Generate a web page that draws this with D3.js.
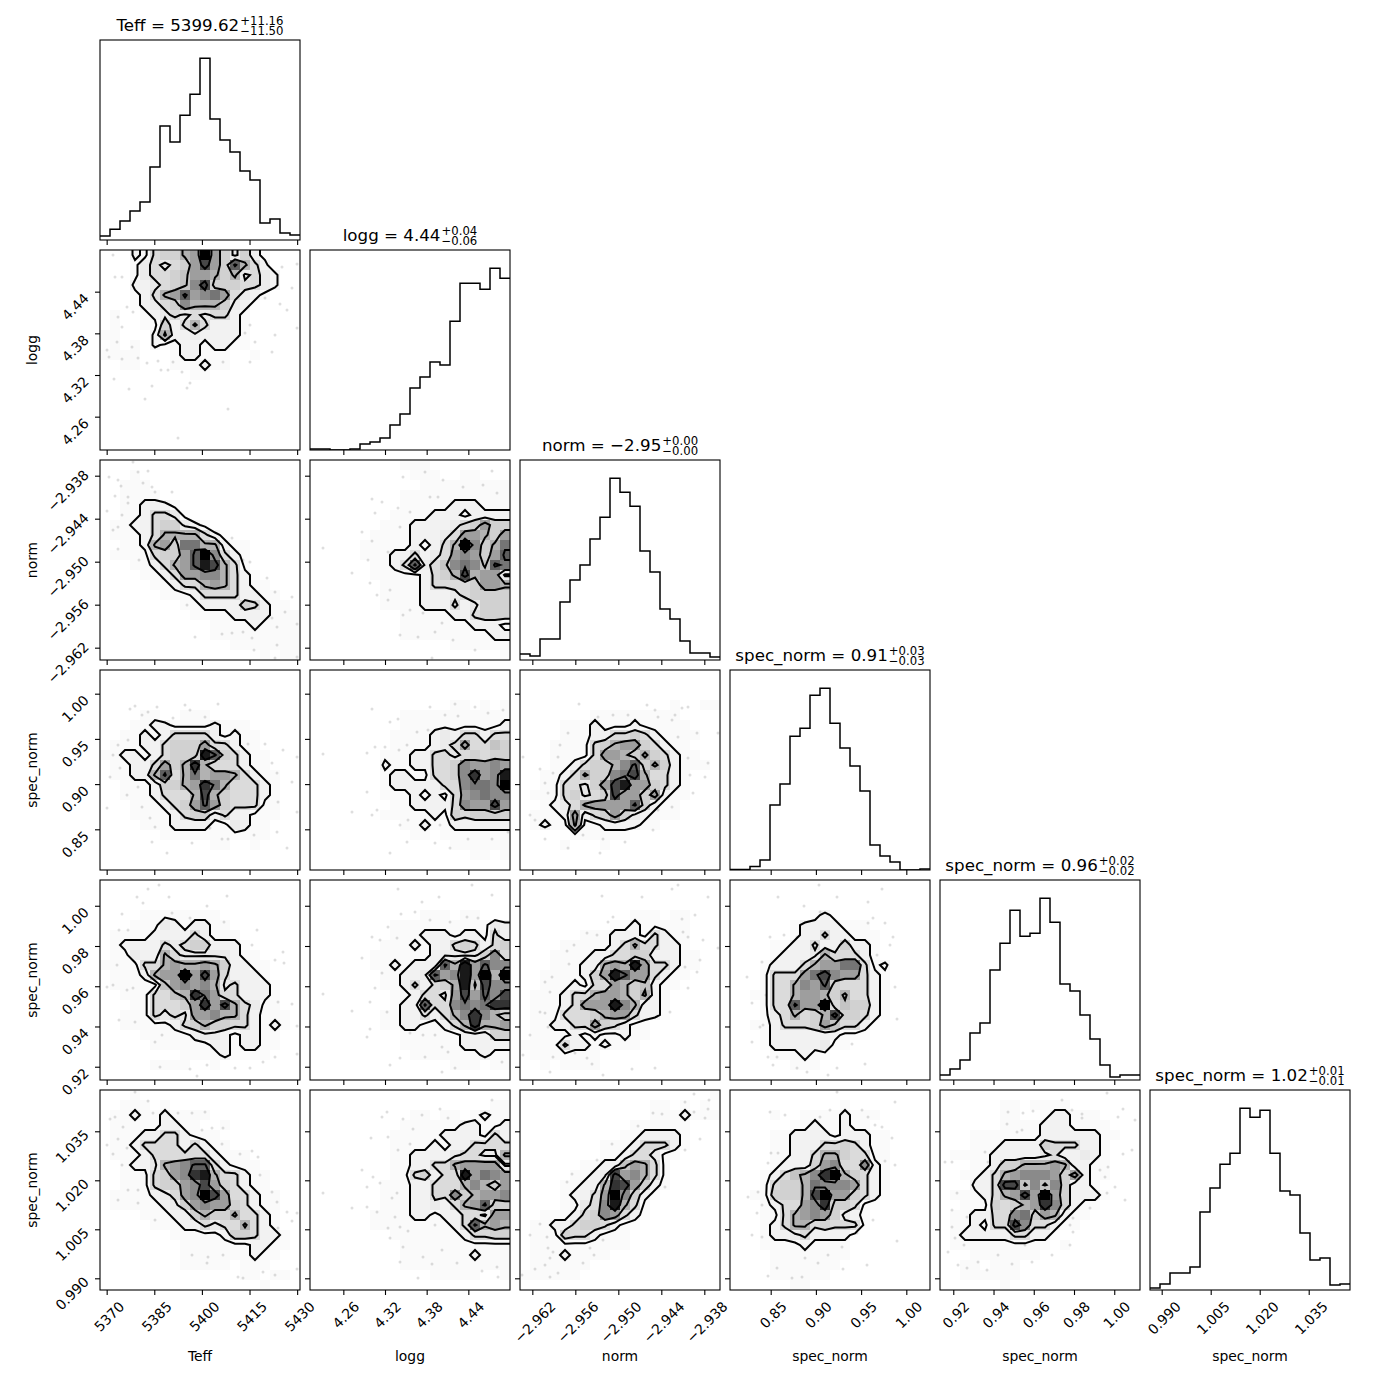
<!DOCTYPE html>
<html><head><meta charset="utf-8">
<script src="https://cdn.jsdelivr.net/npm/d3@7"></script>
<style>html,body{margin:0;background:#fff}svg{display:block}text{font-family:"DejaVu Sans",sans-serif;fill:#000}</style>
</head><body><svg id="c" width="1390" height="1390"></svg>
<script>
// ---- parameters
const paramLabels = ["Teff","logg","norm","spec_norm","spec_norm","spec_norm"];
const titleMain = ["Teff = 5399.62","logg = 4.44","norm = \u22122.95","spec_norm = 0.91","spec_norm = 0.96","spec_norm = 1.02"];
const titleUp = ["+11.16","+0.04","+0.00","+0.03","+0.02","+0.01"];
const titleDown = ["\u221211.50","\u22120.06","\u22120.00","\u22120.03","\u22120.02","\u22120.01"];
const domainsLow = [5367.9,4.212,-2.96372,0.805,0.9134,0.98642];
const domainsHigh = [5430.9,4.500,-2.93581,1.0262,1.0128,1.04764];
const tickValues = [[5370,5385,5400,5415,5430],[4.26,4.32,4.38,4.44],[-2.962,-2.956,-2.950,-2.944,-2.938],[0.85,0.90,0.95,1.00],[0.92,0.94,0.96,0.98,1.00],[0.990,1.005,1.020,1.035]];
const tickDecimals = [0,2,3,2,2,3];
// ---- 1-D histograms
const histTeff = [4,10.7,19,29,38,73,114,98,125,146,182,121,100,88,69,60,17,21,7,5];
const histLogg = [1,1,0,0,1,6,8,12,25,36,62,73,88,85,129,167,167,161,182,172];
const histNorm = [6,4,21,21,58,80,95,121,143,182,168,154,109,88,51,41,19,7,7,3];
const histS1 = [.4,.4,3.6,10,65,86,134,142,175,182,147,122,104,79,25,14,8,0,0,1];
const histS2 = [5,11,20,47,57,110,137,170,144,147,182,158,96,89,65,41,15,3,5,5];
const histS3 = [2,6,17,17,23,78,102,126,137,182,173,180,137,99,95,57,30,32,5,6];
// ---- density levels (0..f) per 20x20 bin, rows listed top to bottom
const gridA = ["00021 45578 f8535 21000","00013 43458 c85b7 42000","00013 44568 87573 43200","00022 34569 c5554 43200","00012 478b8 9a843 21000","00012 34597 77532 10000","01001 23434 34421 00000","01001 15247 42221 00000","11000 27223 22221 00000","01010 21122 12211 00000","11110 00122 11100 10000","00110 00111 21100 00000","00000 00001 10000 00000","00000 00000 00000 00000","00000 00000 00000 00000","00000 00000 00000 00000","00000 00000 00000 00000","00000 00000 00000 00000","00000 00000 00000 00000","00000 00000 00000 00000"];
const gridB = ["00000 00000 00000 00000","00010 00000 00000 00000","00111 00000 00000 00000","00111 10000 00000 00000","00112 22100 00000 00000","00112 44310 00000 00000","01122 45532 10000 00000","01112 47777 42100 00000","00112 785aa 77211 00000","01111 4558b f9421 00000","00011 2478b ec741 00000","00001 12488 99742 10000","00000 11244 78742 11000","00000 01112 44442 21100","00000 00011 22225 42110","00000 00001 11122 22111","00000 00000 01111 21111","00000 00000 01111 11111","00000 00000 00011 11111","00000 00000 00000 01011"];
const gridC = ["00000 00001 11000 00000","00000 00000 11100 11000","00000 00000 01111 11111","00000 00001 11111 11111","00000 00001 11112 22111","00000 00011 11222 12222","00000 00111 22223 45855","00000 01111 22234 88758","00000 11111 21247 f957a","00000 11122 42348 9858b","00000 01124 b3469 a96ba","00000 01111 12457 c7883","00000 00111 12444 45887","00000 00111 12223 45555","00000 00111 12224 23555","00000 00001 11112 24555","00000 00001 11111 12221","00000 00001 11111 11122","00000 00000 00001 11111","00000 00000 00000 00001"];
const gridD = ["00000 00000 00000 00000","00000 00000 00000 00000","00000 00000 00000 00000","00000 00000 00000 00000","00001 10011 10000 00000","00011 22111 12111 00000","00112 12444 42121 10000","01112 24555 84421 10000","11221 24555 eb542 11000","01122 4857d 74442 11000","01122 7b47a 78874 21100","00111 25578 da744 42100","00111 24447 c7544 42100","00011 12458 b8544 41100","00011 11245 52422 11100","00001 11222 21132 11000","00000 01111 11111 11000","00000 00000 01100 10000","00000 00000 00000 00000","00000 00000 00000 00000"];
const gridE = ["00000 00000 00000 00000","00000 00000 00000 00000","00000 00000 00000 00000","00000 00000 00001 10101","00000 00001 11111 11111","00000 00001 11111 11112","00000 00011 11232 44244","00000 00011 11234 84465","00000 00111 22443 45455","00000 00211 22445 98898","00000 00122 11445 9d89e","00000 00122 22244 9aa9f","00000 00111 21214 89a99","00000 00011 22224 988c8","00000 00111 11215 45555","00000 00001 12112 22222","00000 00000 11011 11111","00000 00000 00001 11111","00000 00000 00000 01101","00000 00000 00000 00000"];
const gridF = ["00000 00000 00000 00000","00000 00000 00000 00000","00000 00000 00000 00000","00000 00000 00000 10011","00000 00111 11111 10000","00001 11211 12111 11000","00001 11224 45421 11100","00011 11457 88542 11000","00011 11488 75754 21100","00011 24557 9b575 21110","00112 47559 ac744 21000","00114 4358c e8854 21000","01114 5345c 88582 11000","00123 47888 8b521 10000","01112 82458 53211 10000","01211 71122 22110 00000","00000 11111 10000 00000","00001 00010 00000 00000","00000 00000 00000 00000","00000 00000 00000 00000"];
const gridG = ["00000 00000 00000 00000","00000 00000 00000 00000","00000 00000 00000 00000","00001 11111 11000 00000","00011 13212 21100 00000","01111 22224 21110 00000","01222 24345 52221 00000","01132 27433 33321 10000","11114 47877 87522 11000","01112 788f8 c8422 21000","01111 16898 97342 22100","00111 4467d a8442 22100","00011 44458 d8c74 31100","00111 43438 89774 21110","00111 11245 75544 21210","00001 11112 33212 21100","00000 11111 12212 21100","00000 00011 11211 11000","00000 11110 01000 00000","00000 00000 00000 00000"];
const gridH = ["00000 00000 00000 00000","00000 00000 00000 00000","00000 00000 00000 00000","00000 00000 01110 11000","00000 00011 11111 11132","00000 00011 12221 22142","00000 00111 21224 54245","00000 01111 11233 33594","00000 01121 222b7 e8b99","00000 00112 23b89 e8f7f","00000 00112 42457 e6c99","00000 00011 24438 c8b9c","00000 00012 2b449 a9add","00000 00112 24247 9d975","00000 00112 21124 7d778","00000 00001 11111 22255","00000 00001 11111 22222","00000 00000 11111 11211","00000 00000 00001 11011","00000 00000 00000 00000"];
const gridI = ["00000 00000 00000 00000","00000 00000 00000 00000","00000 00000 00000 00000","00000 00000 01110 11000","00000 00001 12111 11000","00000 01112 22142 11000","00001 11112 47442 21000","00011 11224 45522 21100","00011 12278 7e844 21100","00111 1258e b8842 11000","00111 21448 75621 10000","01112 44788 75721 00000","01112 4888e 97221 00000","01114 44578 84221 00000","01122 44854 21100 00000","01111 21211 21100 00000","11114 22121 11000 00000","01111 11100 00000 00000","00101 11100 00000 00000","00000 00000 00000 00000"];
const gridJ = ["00000 00000 00000 00000","00000 00000 00000 00000","00000 00000 00000 00000","00000 00012 10000 00000","00000 01222 21110 00000","00000 01224 22111 00000","00001 12242 25221 00000","00001 22237 44421 00000","00012 22478 8aa41 20000","00014 448ac 98842 10000","00014 4798b 54442 10000","00114 47887 57442 10000","00014 4b88f 46552 10000","00013 47457 c5542 10000","00112 44458 64421 00000","00012 22222 21110 00000","00012 22223 11000 00000","00001 11211 00000 00000","00000 01110 00000 00000","00000 00000 00000 00000"];
const gridK = ["00010 00000 00000 00000","00111 01000 00000 00000","01121 12111 10000 00000","01111 12211 00100 00000","01112 24421 11000 00000","01124 44424 21100 00000","01112 44444 42111 00000","00122 3789b b4211 10000","00111 4589d e7442 11000","00111 45589 c8542 11000","01111 23489 fc844 21100","01111 12358 98854 21100","00001 11225 75574 42100","00000 11122 43447 42100","00000 00111 11255 42210","00000 00011 11111 22110","00000 00011 11111 21100","00000 00011 11101 11000","00000 00000 00001 10110","00000 00000 00000 01000"];
const gridL = ["00000 00000 00000 00000","00000 00000 00000 00011","00000 00000 11011 01211","00000 00001 11111 22112","00000 00011 11122 22142","00000 00011 11212 24444","00000 00011 22223 44337","00000 00011 22447 88883","00000 00011 45244 e8a98","00000 00111 22444 79758","00000 00111 22449 57889","00000 00111 22324 78b55","00000 01111 22122 44388","00000 01111 11112 4b787","00000 00011 11111 24455","00000 00001 11111 11111","00000 00001 11111 12111","00000 00001 11111 11111","00000 00000 00111 11001","00000 00000 00000 00000"];
const gridM = ["00000 00000 00000 00001","00000 00000 00011 01010","00000 00000 00011 12111","00000 00000 01111 11000","00000 00000 11222 21000","00000 00011 12444 21000","00000 00011 24431 10000","00000 01122 68741 00000","00000 1123c 89741 00000","00001 1227d c8521 00000","00001 2248f 95210 00000","00001 1349e 74100 00000","00111 24598 42100 00000","01122 45542 11000 00000","01115 44211 10000 00000","01111 11111 10000 00000","01112 11110 00000 00000","01111 11000 00000 00000","11111 10000 00000 00000","00000 00000 00000 00000"];
const gridN = ["00000 00000 00000 00000","00000 00000 01000 00000","00001 00111 12111 00000","00000 01121 12110 00000","00001 12222 12221 10000","00001 12224 45421 10000","00001 12247 75441 10000","00001 22258 94492 10000","00012 4679d f7542 10000","00014 557a9 99842 10000","00115 557cf 88542 10000","00012 4489d 55411 00000","00011 47898 53210 00000","00012 47745 44410 00000","00012 23422 22100 00000","00011 11211 11000 00000","00001 11111 11000 00000","00001 11111 10000 00000","00001 11111 00000 00000","00000 01100 00000 00000"];
const gridO = ["00000 00000 00000 00000","00000 01101 11100 00000","00000 01100 12211 10000","00000 01111 22211 11000","00011 11111 22222 21100","00011 12222 54442 21000","01111 22222 34223 21000","00011 25577 78722 11000","00112 47899 98582 11000","00022 4cc69 69522 10000","01112 478c8 f8522 21000","00111 54578 d9521 10000","01122 449a5 87211 00000","01121 44c94 42110 00000","01222 22442 21000 00000","01111 11111 10100 00000","00011 11111 00000 00000","00110 11100 00000 00000","00111 11100 00000 00000","00000 01000 00000 00000"];
// ---- scattered samples outside the contours, [bin along x, bin down y]
const ptsA=[[1.3,.5],[1.5,2.7],[2.2,2.7],[2.7,5.7],[3.3,6.2],[1.8,6.7],[2.2,7.7],[.7,10],[1.7,9.2],[.9,10.7],[2.2,10.9],[3.2,9.7],[3.8,10.8],[4.7,11.3],[5.8,11.1],[6.1,12],[6.8,12],[7.3,11.2],[8.2,12.2],[9,13.3],[8.7,13.8],[5.2,13.6],[2.9,13.9],[1.4,12.9],[4.5,14.9],[7.8,18.8],[12.8,15.9],[12.3,11.2],[15,11.2],[17.2,10.2],[17.5,8.5],[19.7,7.8],[18.7,6],[18,5.4],[19.2,3.8],[18.2,1.7],[19.7,1.4],[16.5,4.8],[15,7.5],[14.5,8.3],[15.5,9.2]];
const ptsB=[[3.3,.2],[3.8,1.2],[4.8,1.1],[.9,1.7],[1.8,2],[2.1,2.6],[4.3,2.3],[5.2,2.7],[5.5,3.2],[7.2,3.2],[2.8,3.7],[2.8,4.3],[1.5,3.6],[.7,5.1],[2.2,5.5],[1.8,6.7],[1.3,7],[1.8,8.9],[3.9,10],[6.3,11.8],[7,12.2],[8.7,14.5],[9.5,17.7],[12.2,17.4],[13.2,17.3],[14.3,17.2],[15.2,17.8],[15.7,16.2],[17.2,15.8],[17.7,16.7],[18.5,15.2],[19.2,13.7],[17.5,13.2],[16.7,11.8],[15,10.2],[14.3,10],[13.2,7.8],[11.8,7.4],[19.7,16.4],[17.7,18.5],[15.4,19],[19.7,19.7],[17.5,19.8]];
const ptsC=[[9.3,1.7],[11.5,1.2],[13.3,2],[15.3,2.7],[18.2,1.1],[17.3,2.5],[18.7,3.3],[12.8,3.7],[12,3.7],[6.2,3.9],[7.2,4.2],[6.5,5.3],[8.8,4.8],[9,6.7],[10,5.2],[5.2,7.2],[6.2,8.1],[7.8,9.2],[1.3,8.8],[5.8,10],[4.2,11.3],[6,12.3],[8,13],[6.7,13.5],[7.8,14],[10,15],[11.3,15.3],[9.3,15.5],[9,17.5],[10.8,17.7],[13.2,16.3],[14.3,18],[16.5,19],[18.2,16.8],[12.5,17.2],[12.2,19.8]];
const ptsD=[[4.8,4.2],[4.2,4.5],[3.5,3.6],[3,3.9],[5.7,3.7],[8.5,3.5],[9,4],[11.8,3.4],[7.3,4.8],[10.5,4.7],[1.8,7.5],[1.3,8.5],[2.8,7],[1,10.7],[2,9.8],[3.8,11.7],[2.7,12.5],[.7,13.8],[4.2,13.7],[5,14.8],[5.5,15.7],[5.2,17.2],[6.7,18.3],[9.2,17.3],[11,15.8],[12.2,16.9],[12.8,16.9],[15.4,16.5],[17.7,16.2],[18.7,17.8],[19.7,14.2],[17.8,13.2],[19.2,11.2],[17.7,10.3],[17.2,9.3],[19.7,8.7],[18.3,8],[16.5,7.4],[14.8,7.4],[13.8,6.2]];
const ptsE=[[1.3,8.4],[6.2,3.9],[8.8,4.9],[8,5.2],[5.7,8.3],[6.5,7.7],[7.5,7.7],[8.9,8],[9.7,7.5],[10.7,6.2],[11.8,6],[12,3.7],[14.5,3.4],[16.5,3.7],[17.8,4.3],[19.3,4],[13.5,4.5],[14.8,4.6],[5.7,12.2],[4.2,14.2],[6.7,14],[6.2,14.5],[8,18.3],[9.8,15],[9,15.5],[13,15.5],[9.7,17.2],[12.5,17.3],[14,17.8],[15.8,16.9],[18.2,16.9],[19.8,16.2]];
const ptsF=[[5.9,3.4],[7.8,4.7],[9.3,4.5],[10.8,4.5],[12.7,3.5],[13.5,4],[13.8,4.7],[16.2,3.8],[16.8,3.7],[15.5,4.5],[15.2,5],[15.8,6.7],[17.7,6.3],[19.8,6.3],[16.8,8.8],[18.8,9.3],[17,10.5],[18.5,10.7],[17.3,12.3],[15.2,13.7],[13.8,14],[13.3,16],[4.8,6.3],[4,7.5],[3.8,8.7],[.3,8.7],[2,9.9],[3.3,10.3],[2.5,11.3],[2.8,12.3],[1,14.5],[1.5,15],[6.3,16.5],[4.8,17.8],[8.3,16.9],[8,18.3],[10.5,17.2],[2.5,16.9]];
const ptsG=[[4.8,.9],[5.9,.5],[3.7,1.7],[4.3,2.3],[2.2,3.4],[1.9,5],[2.8,5],[6.9,1.7],[7.2,3.3],[9,3.8],[10.7,2.6],[12.7,1.6],[12.4,4.2],[15.7,5],[15.2,6.5],[18.3,7.2],[17.5,8],[18.4,8.3],[1.7,8.5],[.7,10.7],[1.3,10.5],[2.7,11],[3.3,10.8],[1.9,14],[3.5,14.2],[6.2,15.5],[5.5,16.2],[6,18.7],[9,18.9],[9.7,19.6],[10.7,18.5],[13.5,18.8],[15,18.8],[16.3,18.2],[17.5,17.7],[19.7,17.4],[19.7,14.6],[19.2,12.4],[17.8,12.2],[16.7,10.4]];
const ptsH=[[8.8,.9],[16.2,.5],[18.2,1.5],[11.2,2.2],[12.9,1.7],[9.1,3.4],[10.5,3.2],[15.7,3.7],[16.8,3.8],[12,4],[14,4.2],[7.8,4.7],[6.2,5.7],[7,6],[8.7,5.8],[5.2,7.8],[7.2,9.3],[1.3,11.4],[6.5,10.8],[6,12.2],[4.2,13.1],[7.7,13.2],[6,14.9],[5.7,15.7],[11.3,15.5],[12.5,15.5],[10,15.3],[11.5,17.7],[9,17.8],[8,18.5],[13.2,16.7],[14.5,18.8],[13.2,19.2],[19.2,18.2],[13.8,17.2]];
const ptsI=[[8.2,1.6],[12.2,1.7],[15.2,.9],[15.8,.5],[18.8,1.7],[17.5,3.5],[16.2,3.9],[9.3,3.7],[8.8,4.2],[6.7,5.3],[7.7,5.5],[5.4,6.5],[4.7,7.1],[16.3,5.2],[16.8,5.7],[18.3,6],[19.8,6.8],[18,8],[16.5,8.7],[17.7,9.2],[16.8,10.8],[15,13.2],[4.9,8.4],[3.2,9.7],[2.5,10.2],[3,11.2],[2,13.2],[2.5,13.3],[2.8,14.7],[1,15.5],[.3,17.5],[3.3,17.7],[5.5,17.3],[6.7,17.8],[7.2,18.4],[8.3,19.5],[11.2,18.9],[13.5,18.8],[3,19.2]];
const ptsJ=[[8.9,.5],[4.8,1.7],[10.7,1.7],[15.2,.9],[13.8,2.2],[7.4,2.6],[9,3.2],[14.3,3.8],[13.8,4.3],[15.5,4.3],[4,5.7],[5.4,5.5],[6.7,5.7],[16.3,5.7],[16,6.5],[14.7,7.5],[3.2,8.2],[1.7,9.7],[3.6,11.5],[2.2,12.3],[16.5,10.7],[14.9,12.1],[16.7,13.9],[3.3,14.5],[3,14.7],[2.2,16.2],[4.7,17.7],[3.8,17.7],[4.3,18.5],[6.7,18.8],[9.8,19.5],[10.7,18.8],[12.2,16.4],[13.5,18.4],[7.7,19.2]];
const ptsK=[[3.5,.2],[4.8,1.1],[1.5,2.7],[1,2.9],[2.3,3.7],[5.3,2.3],[7.8,2.3],[9.2,2.3],[10.5,2.2],[10.2,4],[11.2,3.8],[12.3,3.8],[12.2,5.4],[.7,5.5],[1.8,4.9],[2.7,5.8],[1.3,6.4],[14,6.4],[15.2,6.1],[15.8,6.7],[16,8.5],[17.2,10.2],[17.7,11.2],[18.7,12.2],[19.7,12.3],[19.2,13.1],[17.8,13.8],[2.2,7.5],[2.8,10],[1.8,11],[3.8,10],[3.8,11.3],[5.5,13],[9.2,16.5],[10.8,16.7],[12.3,16.5],[10.7,17.3],[13.8,18.7],[14.3,18.8],[16.3,18.2],[19.7,17.9],[17.5,18.5]];
const ptsL=[[9.3,2.9],[11.2,2.5],[13,1.9],[13.8,2.8],[18.2,1],[7.2,2.7],[7.7,2.2],[10.3,3.9],[10,5.4],[8.8,6],[7.8,4.7],[6.1,4.8],[5.2,8],[6.3,8.7],[7,9.3],[1.3,10.3],[5.7,9.7],[4.2,11.8],[5.7,11.7],[6.7,12.2],[8.2,10.8],[8.7,10.3],[8.5,12.7],[7.8,13.8],[9.8,14.1],[9,13.7],[8,14.8],[12.5,13.5],[9.3,15.7],[11.3,16.7],[13.2,16],[14.7,17.3],[12.2,17.4],[10.8,18.8],[17.2,18.1],[18.7,17.7],[18.8,18.7],[9,17.2]];
const ptsM=[[17.4,.4],[16.5,1.2],[18.9,1],[18.8,1.9],[13.3,2.3],[14.2,2.4],[17.4,2.2],[18.5,2.8],[11.8,3.6],[18,4.9],[16.5,6],[7.7,7],[9.2,5.4],[5.2,8.4],[4.7,9.2],[14.5,9.7],[13.2,10.3],[10.5,13.2],[9.5,13.7],[2,13.4],[2.7,14.7],[1,14.5],[8.3,15],[7,15.8],[7.4,16.5],[2.8,15.8],[3.3,16.2],[2.5,17.5],[1.5,17.9],[3,16.8],[3.8,18.3],[6.3,17.3],[3,18.7],[.2,18.5]];
const ptsN=[[10.7,.2],[5.5,2.5],[4,2.2],[9,2.7],[10,2],[13.2,2],[13.8,2.7],[16.5,1.2],[14.5,3.5],[15.2,3.7],[16.2,4.8],[14,5.7],[15.5,7.1],[16.5,7.5],[4.8,6.3],[4.1,6.3],[3.8,7.3],[1.8,10.7],[2.8,10.2],[3.2,11.5],[2.7,12.3],[14.3,13],[2.2,14.5],[3.2,14.7],[12.7,14.3],[16.7,15.1],[13.7,17.5],[11.2,15.7],[9.8,16.5],[8.8,17.3],[7.5,16.8],[4.7,17.8],[3.8,18.6],[6.2,18.8],[11.3,17.9],[7.2,18.7]];
const ptsO=[[.5,7.2],[1.2,7.2],[4.5,6.2],[4.8,7.2],[6.7,3.4],[6.8,2.2],[8.3,2.3],[9.3,2.1],[8.2,4],[7.7,4.2],[5.8,5.7],[12.2,1],[13.2,2],[14.2,2.4],[14.2,2.8],[16.7,.3],[17.8,2.7],[18.3,1.9],[19.5,3],[18.3,6.4],[19.2,6],[16,8],[16.8,7.7],[16.5,8.7],[17.5,9.7],[18.5,11],[16.7,10.3],[15,11.8],[13.3,12.8],[13,13.5],[13.3,14.2],[13,15.5],[1.7,10.3],[1.2,12],[2.7,12.7],[1.2,13.7],[1.5,14.8],[2.4,15.5],[.8,16.2],[1.8,17.5],[2.7,17.8],[3.8,17.2],[4.7,18],[5.8,16.5],[7.2,17.4],[9.2,17.2],[11.2,16.5],[8.5,15.5]];
// ---- which pair each grid belongs to: [x param, y param, grid, points]
const pairs=[[0,1,gridA,ptsA],[0,2,gridB,ptsB],[1,2,gridC,ptsC],[0,3,gridD,ptsD],[1,3,gridE,ptsE],[2,3,gridF,ptsF],[0,4,gridG,ptsG],[1,4,gridH,ptsH],[2,4,gridI,ptsI],[3,4,gridJ,ptsJ],[0,5,gridK,ptsK],[1,5,gridL,ptsL],[2,5,gridM,ptsM],[3,5,gridN,ptsN],[4,5,gridO,ptsO]];
const hists=[histTeff,histLogg,histNorm,histS1,histS2,histS3];
const contourLevels=[1.5,3.5,6.5,10.5];
const levelOpacity=[0,.02,.05,.08,.14,.18,.23,.3,.38,.46,.54,.63,.72,.8,.9,1];

const BINS=20, SIZE=200, STEP=210, LEFT=100, TOP=40;
const svg=d3.select("#c");
const defs=svg.append("defs");
const xS=i=>d3.scaleLinear().domain([domainsLow[i],domainsHigh[i]]).range([LEFT+i*STEP,LEFT+i*STEP+SIZE]);
const yS=i=>d3.scaleLinear().domain([domainsLow[i],domainsHigh[i]]).range([TOP+i*STEP+SIZE,TOP+i*STEP]);
const binX=(i,g)=>domainsLow[i]+(domainsHigh[i]-domainsLow[i])*g/BINS;
const binY=(i,g)=>domainsHigh[i]-(domainsHigh[i]-domainsLow[i])*g/BINS;
const fmt=i=>v=>v.toFixed(tickDecimals[i]).replace("-","\u2212");

function clip(id,x,y){defs.append("clipPath").attr("id",id).append("rect").attr("x",x).attr("y",y).attr("width",SIZE).attr("height",SIZE);}

function bottomAxis(g,i,row,labels){
  const ax=d3.axisBottom(xS(i)).tickValues(tickValues[i]).tickSize(5).tickFormat(labels?fmt(i):"");
  const a=g.append("g").attr("transform",`translate(0,${TOP+row*STEP+SIZE})`).call(ax);
  a.select(".domain").remove();
  a.selectAll(".tick line").attr("stroke","#000").attr("stroke-width",1.1);
  a.selectAll(".tick text").attr("y",null).attr("dy",null).attr("font-size",13.9).style("font-family",'"DejaVu Sans"').attr("fill","#000").attr("text-anchor","middle").attr("dominant-baseline","central")
   .each(function(){const w=this.getComputedTextLength();const b=(w+11)*Math.SQRT1_2;d3.select(this).attr("transform",`translate(2,${10+b/2}) rotate(-45)`);});
}
function leftAxis(g,i,col,labels){
  const ax=d3.axisLeft(yS(i)).tickValues(tickValues[i]).tickSize(5).tickFormat(labels?fmt(i):"");
  const a=g.append("g").attr("transform",`translate(${LEFT+col*STEP},0)`).call(ax);
  a.select(".domain").remove();
  a.selectAll(".tick line").attr("stroke","#000").attr("stroke-width",1.1);
  a.selectAll(".tick text").attr("x",null).attr("dy",null).attr("font-size",13.9).style("font-family",'"DejaVu Sans"').attr("fill","#000").attr("text-anchor","middle").attr("dominant-baseline","central")
   .each(function(){const w=this.getComputedTextLength();const b=(w+11)*Math.SQRT1_2;d3.select(this).attr("transform",`translate(${-10-b/2},14.5) rotate(-45)`);});
}
function frame(g,x,y){g.append("rect").attr("x",x).attr("y",y).attr("width",SIZE).attr("height",SIZE).attr("fill","none").attr("stroke","#000").attr("stroke-width",1.1);}

// 2-D panels
pairs.forEach(([xi,yi,rows,pts],k)=>{
  const x=xS(xi),y=yS(yi),g=svg.append("g");
  const px=LEFT+xi*STEP,py=TOP+yi*STEP,id="cp"+k;
  clip(id,px,py);
  const body=g.append("g").attr("clip-path",`url(#${id})`);
  const grid=rows.map(r=>Array.from(r.replace(/ /g,""),c=>parseInt(c,16)));
  // samples
  body.append("g").selectAll("circle").data(pts).join("circle")
    .attr("cx",d=>x(binX(xi,d[0]))).attr("cy",d=>y(binY(yi,d[1]))).attr("r",1.5).attr("fill","#000").attr("fill-opacity",.13);
  // padded field for the contours
  const W=BINS+2,values=new Array(W*W);
  for(let r=0;r<W;r++)for(let c=0;c<W;c++){
    const rr=Math.min(BINS-1,Math.max(0,r-1)),cc=Math.min(BINS-1,Math.max(0,c-1));
    values[r*W+c]=grid[rr][cc];
  }
  const proj=d3.geoTransform({point(gx,gy){this.stream.point(x(binX(xi,gx-1)),y(binY(yi,gy-1)));}});
  const path=d3.geoPath(proj);
  const polys=d3.contours().size([W,W]).thresholds(contourLevels)(values);
  // white under the lowest contour hides the samples
  body.append("path").attr("d",path(polys[0])).attr("fill","#fff").attr("fill-rule","evenodd");
  // density cells
  const cells=[];
  grid.forEach((row,r)=>row.forEach((v,c)=>{if(v>0)cells.push({r,c,v});}));
  body.append("g").attr("shape-rendering","crispEdges").selectAll("rect").data(cells).join("rect")
    .attr("x",d=>x(binX(xi,d.c))).attr("y",d=>y(binY(yi,d.r)))
    .attr("width",d=>x(binX(xi,d.c+1))-x(binX(xi,d.c))).attr("height",d=>y(binY(yi,d.r+1))-y(binY(yi,d.r)))
    .attr("fill","#000").attr("fill-opacity",d=>levelOpacity[d.v]);
  // contour lines
  body.append("g").selectAll("path").data(polys).join("path").attr("d",path)
    .attr("fill","none").attr("stroke","#000").attr("stroke-width",2).attr("stroke-linejoin","miter");
  bottomAxis(g,xi,yi,yi===5);
  leftAxis(g,yi,xi,xi===0);
  frame(g,px,py);
});

// diagonal histograms and titles
hists.forEach((h,i)=>{
  const px=LEFT+i*STEP,py=TOP+i*STEP,g=svg.append("g"),id="ch"+i;
  clip(id,px,py);
  const x=xS(i);
  const yh=d3.scaleLinear().domain([0,1.1*d3.max(h)]).range([py+SIZE,py]);
  const steps=[];
  h.forEach((v,b)=>{steps.push([binX(i,b),v]);steps.push([binX(i,b+1),v]);});
  g.append("path").attr("clip-path",`url(#${id})`)
    .attr("d",d3.line().x(d=>x(d[0])).y(d=>yh(d[1]))(steps))
    .attr("fill","none").attr("stroke","#000").attr("stroke-width",1.5);
  bottomAxis(g,i,i,i===5);
  frame(g,px,py);
  // title
  const t=g.append("g");
  const main=t.append("text").attr("y",py-9).attr("font-size",16.7).text(titleMain[i]);
  const up=t.append("text").attr("y",py-15).attr("font-size",11.7).text(titleUp[i]);
  const dn=t.append("text").attr("y",py-5).attr("font-size",11.7).text(titleDown[i]);
  const mw=main.node().getComputedTextLength(),sw=Math.max(up.node().getComputedTextLength(),dn.node().getComputedTextLength());
  const x0=px+SIZE/2-(mw+sw+1)/2;
  main.attr("x",x0);
  up.attr("x",x0+mw+1);dn.attr("x",x0+mw+1);
  // bottom axis name
  svg.append("text").attr("x",px+SIZE/2).attr("y",1361).attr("text-anchor","middle").attr("font-size",13.9).text(paramLabels[i]);
  if(i>0){
    const cy=py+SIZE/2;
    svg.append("text").attr("transform",`translate(37,${cy}) rotate(-90)`).attr("text-anchor","middle").attr("font-size",13.9).text(paramLabels[i]);
  }
});
</script></body></html>
